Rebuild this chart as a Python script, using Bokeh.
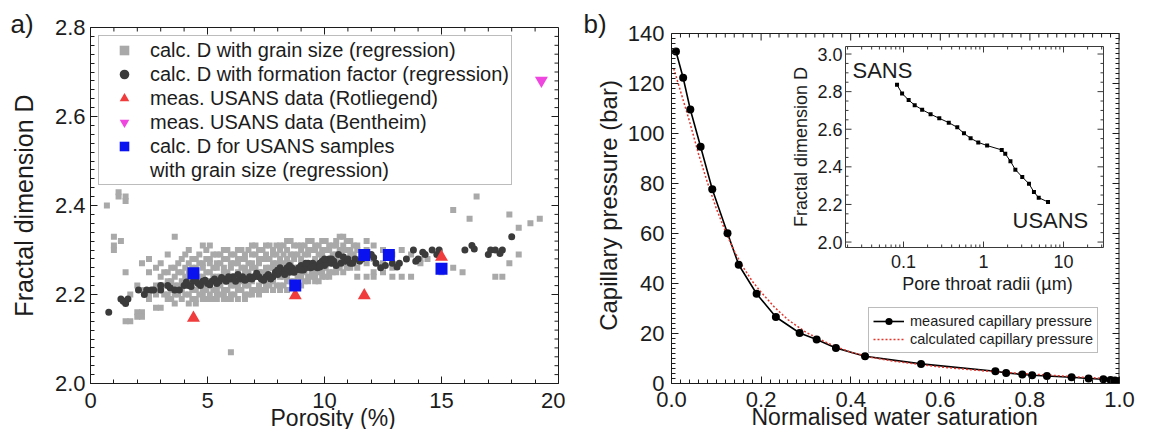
import math
from bokeh.plotting import figure
from bokeh.models import (Range1d, FixedTicker, PrintfTickFormatter, LogScale,
                          Legend, LegendItem, Label, Title)
from bokeh.layouts import row
from bokeh.embed import file_html
from bokeh.resources import INLINE
from bokeh.core.properties import value

FONT = "Liberation Sans"
INK = "#1c1c1c"

# ---------------- panel a data ----------------
grey_cols = [0.7, 1.0, 1.2, 1.3, 1.5, 1.7, 2.0, 2.2, 2.5, 2.8, 3.0, 3.3, 3.6, 3.9, 4.2, 4.5,
             4.8, 5.1, 5.4, 5.7, 6.0, 6.3, 6.6, 6.9, 7.2, 7.5, 7.8, 8.1, 8.4, 8.7, 9.0, 9.3,
             9.6, 9.9, 10.2, 10.5, 10.8, 11.1, 11.4, 11.8, 12.1, 12.5, 12.9, 13.3, 13.7,
             14.1, 14.4, 15.0, 15.5, 15.9, 16.2, 16.5, 17.3, 17.6, 17.9, 18.3, 18.8, 19.2]
grey_vals = [
    [2.40], [2.33, 2.31, 2.30], [2.43, 2.42], [2.32], [2.42, 2.41, 2.25, 2.14], [2.20, 2.14],
    [2.22, 2.16, 2.15], [2.27, 2.21, 2.16, 2.15], [2.28, 2.25, 2.20, 2.19], [2.26, 2.22, 2.20, 2.17],
    [2.27, 2.24, 2.22, 2.21, 2.17], [2.29, 2.25, 2.23, 2.20, 2.19], [2.33, 2.26, 2.24, 2.22, 2.20, 2.18],
    [2.28, 2.25, 2.23, 2.21, 2.19], [2.30, 2.27, 2.25, 2.24, 2.22, 2.20, 2.18],
    [2.28, 2.26, 2.25, 2.23, 2.21, 2.19, 2.18], [2.31, 2.27, 2.26, 2.24, 2.22, 2.21, 2.20, 2.19],
    [2.31, 2.28, 2.27, 2.25, 2.23, 2.22, 2.20, 2.19], [2.29, 2.27, 2.26, 2.24, 2.22, 2.21, 2.20, 2.19],
    [2.30, 2.28, 2.26, 2.25, 2.23, 2.21, 2.20, 2.19], [2.29, 2.27, 2.26, 2.24, 2.23, 2.22, 2.20, 2.19, 2.07],
    [2.30, 2.28, 2.27, 2.25, 2.24, 2.22, 2.21, 2.19], [2.29, 2.28, 2.26, 2.25, 2.23, 2.22, 2.20, 2.19],
    [2.31, 2.29, 2.27, 2.26, 2.24, 2.23, 2.21, 2.20], [2.30, 2.28, 2.27, 2.25, 2.24, 2.22, 2.21, 2.20],
    [2.31, 2.29, 2.28, 2.26, 2.25, 2.23, 2.22, 2.21], [2.30, 2.29, 2.27, 2.26, 2.24, 2.23, 2.21],
    [2.31, 2.30, 2.28, 2.27, 2.25, 2.24, 2.22, 2.21], [2.32, 2.30, 2.28, 2.27, 2.26, 2.24, 2.23, 2.21],
    [2.31, 2.29, 2.28, 2.26, 2.25, 2.23, 2.22], [2.31, 2.30, 2.28, 2.27, 2.25, 2.24, 2.22],
    [2.32, 2.30, 2.29, 2.27, 2.26, 2.24, 2.23], [2.31, 2.30, 2.28, 2.27, 2.25, 2.24, 2.23],
    [2.32, 2.30, 2.29, 2.28, 2.26, 2.25, 2.24], [2.31, 2.30, 2.28, 2.27, 2.25, 2.24],
    [2.32, 2.31, 2.29, 2.28, 2.26, 2.25], [2.33, 2.31, 2.30, 2.28, 2.27, 2.25],
    [2.32, 2.30, 2.29, 2.27, 2.26], [2.31, 2.30, 2.28, 2.26, 2.24], [2.32, 2.30, 2.27, 2.24],
    [2.31, 2.28, 2.25, 2.24], [2.30, 2.27, 2.25], [2.29, 2.26, 2.24], [2.30, 2.24], [2.29, 2.24],
    [2.28, 2.27], [2.28], [2.25], [2.39, 2.26], [2.25], [2.37], [2.42], [2.24], [2.24],
    [2.38, 2.27], [2.35, 2.29], [2.36], [2.37]]
# extra grey columns between the ones above (dense band)
grey_cols2 = [3.15, 3.45, 3.75, 4.05, 4.35, 4.65, 4.95, 5.25, 5.55, 5.85, 6.15, 6.45, 6.75,
              7.05, 7.35, 7.65, 7.95, 8.25, 8.55, 8.85, 9.15, 9.45, 9.75, 10.05, 10.35, 10.65,
              10.95, 11.25]
grey_vals2 = [
    [2.25, 2.22, 2.20], [2.26, 2.23, 2.21, 2.19], [2.27, 2.25, 2.22, 2.20],
    [2.29, 2.26, 2.24, 2.22, 2.20], [2.28, 2.26, 2.23, 2.21, 2.19], [2.29, 2.27, 2.24, 2.22, 2.20],
    [2.30, 2.28, 2.25, 2.23, 2.21, 2.19], [2.29, 2.26, 2.24, 2.21, 2.19], [2.29, 2.27, 2.24, 2.22, 2.20],
    [2.30, 2.28, 2.25, 2.23, 2.21, 2.19], [2.29, 2.27, 2.24, 2.22, 2.20], [2.30, 2.28, 2.26, 2.23, 2.21],
    [2.30, 2.27, 2.25, 2.22, 2.20], [2.31, 2.29, 2.26, 2.24, 2.21], [2.30, 2.28, 2.25, 2.23, 2.21],
    [2.31, 2.28, 2.26, 2.24, 2.22], [2.31, 2.29, 2.27, 2.25, 2.22], [2.31, 2.29, 2.27, 2.24, 2.22],
    [2.32, 2.29, 2.27, 2.25, 2.23], [2.31, 2.29, 2.26, 2.24, 2.22], [2.31, 2.29, 2.27, 2.25, 2.23],
    [2.32, 2.30, 2.27, 2.25, 2.24], [2.31, 2.29, 2.27, 2.25, 2.23], [2.32, 2.30, 2.28, 2.26, 2.24],
    [2.31, 2.29, 2.27, 2.25], [2.33, 2.30, 2.28, 2.26], [2.32, 2.30, 2.28, 2.26], [2.31, 2.29, 2.27]]

dark_por = [0.78, 1.3, 1.4, 1.5, 1.6, 2.05, 2.3, 2.4, 2.6, 2.7, 3.0, 3.0, 3.3, 3.4, 3.6, 3.8,
            4.0, 4.2, 4.4, 4.6, 4.7, 4.8, 5.0, 5.2, 5.3, 5.4, 5.5, 5.7, 5.8, 6.0, 6.1, 6.2,
            6.4, 6.5, 6.7, 6.8, 6.9, 7.0, 7.2, 7.3, 7.5, 7.6, 7.8, 7.9, 8.0, 8.1, 8.2, 8.3,
            8.4, 8.5, 8.6, 8.8, 8.9, 9.0, 9.1, 9.2, 9.3, 9.4, 9.5, 9.6, 9.7, 9.8, 9.9, 10.0,
            10.1, 10.2, 10.3, 10.4, 10.6, 10.7, 10.9, 11.1, 11.3, 11.6, 12.0, 12.2, 12.4, 12.9,
            13.2, 13.5, 13.8, 14.0, 14.3, 14.6, 14.8, 16.0, 16.3, 17.0, 17.1, 17.3, 17.6, 18.0,
            4.1, 4.3, 4.5, 4.9, 5.1, 5.6, 5.9, 6.3, 6.6, 7.1, 7.4, 7.7, 8.0, 8.3, 8.5, 8.7,
            9.0, 9.2, 9.5, 9.8, 10.0, 10.3, 10.5, 10.8, 11.0, 11.2, 11.5, 12.1, 12.6, 13.1,
            13.9, 14.2, 14.9, 16.4, 17.5]
dark_d = [2.16, 2.19, 2.185, 2.18, 2.19, 2.21, 2.20, 2.21, 2.21, 2.21, 2.21, 2.22, 2.22, 2.215,
          2.21, 2.21, 2.22, 2.22, 2.23, 2.225, 2.22, 2.23, 2.225, 2.23, 2.235, 2.225, 2.23,
          2.235, 2.23, 2.235, 2.24, 2.23, 2.235, 2.24, 2.235, 2.24, 2.235, 2.24, 2.24, 2.235,
          2.24, 2.245, 2.24, 2.25, 2.245, 2.26, 2.25, 2.255, 2.26, 2.25, 2.26, 2.255, 2.26,
          2.265, 2.255, 2.26, 2.27, 2.26, 2.27, 2.265, 2.26, 2.27, 2.275, 2.265, 2.27, 2.28,
          2.27, 2.275, 2.29, 2.27, 2.275, 2.27, 2.28, 2.28, 2.29, 2.27, 2.26, 2.27, 2.27,
          2.28, 2.30, 2.28, 2.29, 2.30, 2.29, 2.30, 2.31, 2.29, 2.30, 2.30, 2.30, 2.33,
          2.228, 2.218, 2.232, 2.232, 2.222, 2.238, 2.24, 2.245, 2.232, 2.248, 2.232, 2.235,
          2.255, 2.245, 2.265, 2.25, 2.255, 2.27, 2.262, 2.262, 2.28, 2.28, 2.265, 2.285,
          2.28, 2.27, 2.275, 2.283, 2.265, 2.262, 2.275, 2.295, 2.30, 2.302, 2.292]

rot_por = [4.4, 8.75, 11.7, 15.0]
rot_d = [2.147, 2.198, 2.198, 2.284]
ben_por = [19.27]
ben_d = [2.681]
usans_por = [4.4, 8.75, 11.7, 12.75, 15.0]
usans_d = [2.248, 2.22, 2.289, 2.289, 2.258]

legend_a_labels = ["calc. D with grain size (regression)",
                   "calc. D with formation factor (regression)",
                   "meas. USANS data (Rotliegend)",
                   "meas. USANS data (Bentheim)",
                   "calc. D for USANS samples",
                   "with grain size (regression)"]

a_x_major = [0, 5, 10, 15, 20]
a_y_major = [2.0, 2.2, 2.4, 2.6, 2.8]

# ---------------- panel b data ----------------
sw_meas = [0.01, 0.026, 0.042, 0.065, 0.091, 0.125, 0.15, 0.19, 0.233, 0.286, 0.324, 0.367,
           0.432, 0.557, 0.723, 0.747, 0.783, 0.805, 0.838, 0.893, 0.931, 0.964, 0.98, 0.99, 1.0]
pc_meas = [132.8, 122.3, 109.6, 94.7, 77.7, 60.1, 47.5, 35.9, 26.6, 20.2, 17.6, 14.2,
           10.9, 7.85, 4.9, 4.25, 3.6, 3.3, 3.0, 2.5, 2.0, 1.7, 1.4, 1.2, 1.0]
sw_calc = [0.005, 0.02, 0.04, 0.06, 0.08, 0.10, 0.12, 0.14, 0.16, 0.18, 0.20, 0.23, 0.26,
           0.30, 0.35, 0.40, 0.45, 0.50, 0.60, 0.70, 0.80, 0.90, 1.0]
pc_calc = [126, 117, 105, 92, 80.5, 70, 61, 53, 46.5, 41, 36.5, 30.5, 25.5,
           20.5, 16, 12.5, 10.3, 8.8, 6.6, 5.0, 3.8, 2.7, 1.7]
b_x_major = [0.0, 0.2, 0.4, 0.6, 0.8, 1.0]
b_y_major = [0, 20, 40, 60, 80, 100, 120, 140]

# inset
r_um = [0.083, 0.096, 0.116, 0.138, 0.171, 0.218, 0.28, 0.368, 0.47, 0.57, 0.69, 0.86,
        1.11, 1.69, 1.87, 2.17, 2.5, 3.05, 3.7, 4.27, 4.9, 6.4]
frac_d = [2.836, 2.79, 2.755, 2.728, 2.704, 2.68, 2.658, 2.635, 2.61, 2.578, 2.552, 2.53,
          2.513, 2.49, 2.469, 2.43, 2.385, 2.346, 2.31, 2.266, 2.236, 2.213]
inset_x_major = [0.1, 1, 10]
inset_x_labels = ["0.1", "1", "10"]
inset_x_minor = [0.02, 0.03, 0.04, 0.05, 0.06, 0.07, 0.08, 0.09, 0.2, 0.3, 0.4, 0.5, 0.6,
                 0.7, 0.8, 0.9, 2, 3, 4, 5, 6, 7, 8, 9, 20, 30]
inset_y_major = [2.0, 2.2, 2.4, 2.6, 2.8, 3.0]
inset_y_minor = [2.05, 2.1, 2.15, 2.25, 2.3, 2.35, 2.45, 2.5, 2.55, 2.65, 2.7, 2.75,
                 2.85, 2.9, 2.95]


def minors(major, n):
    out = []
    for a, b in zip(major[:-1], major[1:]):
        step = (b - a) / n
        out += [a + k * step for k in range(1, n)]
    return out


def style_axis(ax, fs):
    ax.axis_line_color = INK
    ax.axis_line_width = 1
    ax.major_tick_in = 7
    ax.major_tick_out = 0
    ax.minor_tick_in = 4
    ax.minor_tick_out = 0
    ax.major_tick_line_color = INK
    ax.minor_tick_line_color = INK
    ax.major_label_text_font = FONT
    ax.major_label_text_color = INK
    ax.major_label_text_font_size = fs
    ax.axis_label_text_font = FONT
    ax.axis_label_text_font_style = "normal"
    ax.axis_label_text_color = INK


def mirror_ticks(p, xmaj, xmin, ymaj, ymin, xedge, yedge, dx, dy):
    """top and right inward ticks; dx, dy = data units per pixel"""
    for vals, ln in ((xmaj, 7), (xmin, 4)):
        p.segment(x0=vals, x1=vals, y0=[yedge] * len(vals), y1=[yedge - ln * dy] * len(vals),
                  line_color=INK, line_width=1)
    for vals, ln in ((ymaj, 7), (ymin, 4)):
        p.segment(x0=[xedge] * len(vals), x1=[xedge - ln * dx] * len(vals), y0=vals, y1=vals,
                  line_color=INK, line_width=1)


def letter(p, text, dx):
    # panel letter as the plot title; negative standoff keeps the top panel thin
    p.title.text = text
    p.title.align = "left"
    p.title.offset = dx
    p.title.vertical_align = "middle"
    p.title.standoff = -25
    p.title.text_font = FONT
    p.title.text_font_size = "26px"
    p.title.text_font_style = "normal"
    p.title.text_color = INK


# Both figures in the row share frame top/bottom: frames span y = 27..383 px.
# ======================= panel a =======================
AXR, AYR = (0, 20), (2.0, 2.8)
pa = figure(width=565, height=429, x_range=Range1d(*AXR), y_range=Range1d(*AYR),
            output_backend="svg", toolbar_location=None,
            min_border_left=90, min_border_right=7, min_border_top=27, min_border_bottom=46)
pa.xgrid.visible = False
pa.ygrid.visible = False
pa.outline_line_color = INK

xa = pa.below[0]
ya = pa.left[0]
xa.ticker = FixedTicker(ticks=a_x_major, minor_ticks=minors(a_x_major, 5))
ya.ticker = FixedTicker(ticks=a_y_major, minor_ticks=minors(a_y_major, 10))
ya.formatter = PrintfTickFormatter(format="%.1f")
style_axis(xa, "22px")
style_axis(ya, "22px")
xa.major_label_standoff = 9
ya.major_label_standoff = 5
ya.axis_label = "Fractal dimension D"
ya.axis_label_text_font_size = "25px"
ya.axis_label_standoff = 14
pa.add_layout(Title(text="Porosity (%)", align="left", offset=180, vertical_align="middle",
                    standoff=-14, text_font=FONT, text_font_size="23px",
                    text_font_style="normal", text_color=INK), "below")
letter(pa, "a)", -80)
mirror_ticks(pa, a_x_major, minors(a_x_major, 5), a_y_major, minors(a_y_major, 10),
             AXR[1], AYR[1], 20 / 468, 0.8 / 356)

grey_x = [c for c, vals in zip(grey_cols + grey_cols2, grey_vals + grey_vals2) for _ in vals]
grey_y = [v for vals in grey_vals + grey_vals2 for v in vals]

r_grey = pa.scatter(grey_x, grey_y, marker="square", size=6, fill_color="#a9a9a9", line_color=None)
r_dark = pa.scatter(dark_por, dark_d, marker="circle", size=7, fill_color="#3b3b3b", line_color=None)
r_rot = pa.scatter(rot_por, rot_d, marker="triangle", size=13, fill_color="#f03c3c", line_color=None)
r_ben = pa.scatter(ben_por, ben_d, marker="inverted_triangle", size=13, fill_color="#ee46de", line_color=None)
r_us = pa.scatter(usans_por, usans_d, marker="square", size=12, fill_color="#0a12f0", line_color=None)
r_blank = pa.scatter([], [], marker="square", size=1, fill_alpha=0, line_alpha=0)

leg_a = Legend(items=[LegendItem(label=lb, renderers=[r]) for lb, r in
                      zip(legend_a_labels, [r_grey, r_dark, r_rot, r_ben, r_us, r_blank])],
               location="top_left", margin=8, padding=2, spacing=0,
               glyph_width=46, glyph_height=24, label_height=20, label_standoff=3,
               label_text_font=FONT, label_text_font_size="20px", label_text_color=INK,
               border_line_color="#7a7a7a", border_line_width=1,
               background_fill_color="white", background_fill_alpha=1)
pa.add_layout(leg_a)

# ======================= panel b =======================
FW, FH = 448, 356            # frame size of panel b (px); the box itself starts 6 px lower
TOPGAP = 6
PX_B = 140 / (FH - TOPGAP)   # bar per pixel
BXR, BYR = (0, 1), (0, 140 + TOPGAP * PX_B)
pb = figure(width=570, height=429, x_range=Range1d(*BXR), y_range=Range1d(*BYR),
            output_backend="svg", toolbar_location=None,
            min_border_left=106, min_border_right=16, min_border_top=27, min_border_bottom=46)
pb.xgrid.visible = False
pb.ygrid.visible = False
pb.outline_line_color = None

xb = pb.below[0]
yb = pb.left[0]
xb.ticker = FixedTicker(ticks=b_x_major, minor_ticks=minors(b_x_major, 10))
yb.ticker = FixedTicker(ticks=b_y_major, minor_ticks=minors(b_y_major, 10))
yb.bounds = (0, 140)
xb.formatter = PrintfTickFormatter(format="%.1f")
style_axis(xb, "22px")
style_axis(yb, "22px")
xb.major_label_standoff = 8
yb.major_label_standoff = 7
yb.axis_label = "Capillary pressure (bar)"
yb.axis_label_text_font_size = "24px"
yb.axis_label_standoff = 3
pb.add_layout(Title(text="Normalised water saturation", align="left", offset=80,
                    vertical_align="middle", standoff=-14, text_font=FONT,
                    text_font_size="23px", text_font_style="normal", text_color=INK), "below")
letter(pb, "b)", -88)
# box edges (top at 140 bar, right at Sw = 1)
pb.segment(x0=[0, 1], y0=[140, 0], x1=[1, 1], y1=[140, 140], line_color=INK, line_width=[1, 2])
mirror_ticks(pb, b_x_major, minors(b_x_major, 10), b_y_major, minors(b_y_major, 10),
             1, 140, 1 / FW, PX_B)

l_meas = pb.line(sw_meas, pc_meas, line_color="black", line_width=1.6)
l_calc = pb.line(sw_calc, pc_calc, line_color="#e2372f", line_width=1.5, line_dash="2 2")
s_meas = pb.scatter(sw_meas, pc_meas, marker="circle", size=8, fill_color="black", line_color=None)

leg_b = Legend(items=[LegendItem(label="measured capillary pressure", renderers=[l_meas, s_meas]),
                      LegendItem(label="calculated capillary pressure", renderers=[l_calc])],
               location=(197, 30), padding=4, spacing=0,
               glyph_width=31, glyph_height=18, label_height=16, label_standoff=6,
               label_text_font=FONT, label_text_font_size="14.5px", label_text_color=INK,
               border_line_color="#7a7a7a", border_line_width=1,
               background_fill_color="white", background_fill_alpha=1)
pb.add_layout(leg_b)

# ---------------- inset (drawn inside panel b through extra ranges) ----------------
IB_L, IB_R, IB_T, IB_B = 174, 432, 19, 220   # inset box inside the frame (px)
IX0, IX1 = 0.01884, 31.6
IY0, IY1 = 1.971, 3.04
ppd = (IB_R - IB_L) / (math.log10(IX1) - math.log10(IX0))
ppu = (IB_B - IB_T) / (IY1 - IY0)
pb.extra_x_ranges = {"ix": Range1d(10 ** (math.log10(IX0) - IB_L / ppd),
                                   10 ** (math.log10(IX1) + (FW - IB_R) / ppd))}
pb.extra_x_scales = {"ix": LogScale()}
pb.extra_y_ranges = {"iy": Range1d(IY0 - (FH - IB_B) / ppu, IY1 + IB_T / ppu)}
R = dict(x_range_name="ix", y_range_name="iy")

pb.quad(left=[IX0], right=[IX1], bottom=[IY0], top=[IY1], fill_color="white",
        line_color="#3a3a3a", line_width=1, **R)


def inset_ticks(xv, yv, length):
    kx = 10 ** (length / ppd)
    ky = length / ppu
    n = len(xv)
    pb.segment(x0=xv, y0=[IY0] * n, x1=xv, y1=[IY0 + ky] * n, line_color="#3a3a3a", **R)
    pb.segment(x0=xv, y0=[IY1] * n, x1=xv, y1=[IY1 - ky] * n, line_color="#3a3a3a", **R)
    m = len(yv)
    pb.segment(x0=[IX0] * m, y0=yv, x1=[IX0 * kx] * m, y1=yv, line_color="#3a3a3a", **R)
    pb.segment(x0=[IX1] * m, y0=yv, x1=[IX1 / kx] * m, y1=yv, line_color="#3a3a3a", **R)


inset_ticks(inset_x_major, inset_y_major, 6)
inset_ticks(inset_x_minor, inset_y_minor, 3)

pb.text(x=[IX0 / 10 ** (3 / ppd)] * len(inset_y_major), y=inset_y_major,
        text=["%.1f" % v for v in inset_y_major], text_align="right", text_baseline="middle",
        text_font=value(FONT), text_font_size=value("18px"), text_color=INK, **R)
pb.text(x=inset_x_major, y=[IY0 - 14 / ppu] * len(inset_x_major), text=inset_x_labels,
        text_align="center", text_baseline="middle",
        text_font=value(FONT), text_font_size=value("18px"), text_color=INK, **R)

pb.line(r_um, frac_d, line_color="black", line_width=1, **R)
pb.scatter(r_um, frac_d, marker="square", size=4, fill_color="black", line_color=None, **R)

pb.add_layout(Label(x=IX0 / 10 ** (45 / ppd), y=(IY0 + IY1) / 2, text="Fractal dimension D",
                    angle=math.pi / 2, text_align="center", text_baseline="middle",
                    text_font=FONT, text_font_size="18px", text_color=INK, **R))
pb.add_layout(Label(x=1.12, y=IY0 - 36 / ppu, text="Pore throat radii (µm)",
                    text_align="center", text_baseline="middle",
                    text_font=FONT, text_font_size="18px", text_color=INK, **R))
pb.add_layout(Label(x=IX0 * 10 ** (7 / ppd), y=IY1 - 24 / ppu, text="SANS",
                    text_align="left", text_baseline="middle",
                    text_font=FONT, text_font_size="22px", text_color=INK, **R))
pb.add_layout(Label(x=IX0 * 10 ** (167 / ppd), y=IY1 - 174 / ppu, text="USANS",
                    text_align="left", text_baseline="middle",
                    text_font=FONT, text_font_size="22px", text_color=INK, **R))

layout = row(pa, pb)
open("out.html", "w").write(file_html(layout, INLINE))
